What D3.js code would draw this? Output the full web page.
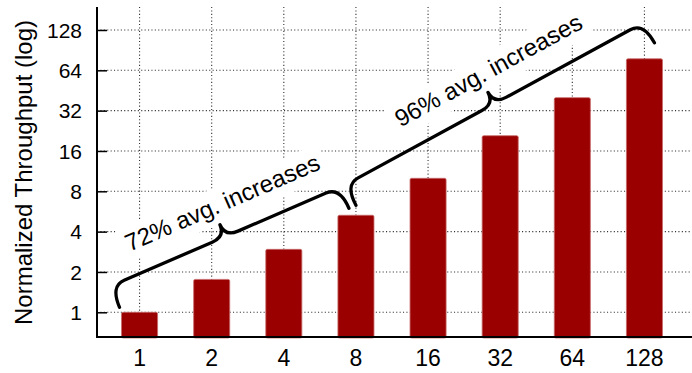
<!DOCTYPE html>
<html>
<head>
<meta charset="utf-8">
<script src="https://cdn.jsdelivr.net/npm/d3@7"></script>
<style>
  html, body { margin: 0; padding: 0; background: #fff; }
  svg { display: block; font-family: "Liberation Sans", Arial, Helvetica, sans-serif; }
</style>
</head>
<body>
<svg id="chart" width="692" height="373"></svg>
<script>
// ---- data ----
const categories = ["1", "2", "4", "8", "16", "32", "64", "128"];
const throughput = [1.0, 1.76, 2.95, 5.3, 10.0, 20.8, 40.0, 78.0];
const yTicks = [1, 2, 4, 8, 16, 32, 64, 128];
const yLabel = "Normalized Throughput (log)";
const annotationLabels = ["72% avg. increases", "96% avg. increases"];
const annotationFrom = ["1", "8"];
const annotationTo = ["8", "128"];

// ---- layout ----
const mLeft = 97, mRight = 692, mTop = 7, mBottom = 337;

const svg = d3.select("#chart");

const x = d3.scaleBand().domain(categories).range([103.5, 680.5])
  .paddingInner(0.5).paddingOuter(0.25);
const y = d3.scaleLog().base(2).domain([0.654, 190]).range([mBottom, mTop]);
const cx = c => x(c) + x.bandwidth() / 2;

// grid
const grid = svg.append("g").attr("stroke", "#333").attr("stroke-width", 1.1)
  .attr("stroke-dasharray", "1.1,2.3");
grid.selectAll("line.h").data(yTicks).join("line").attr("class", "h")
  .attr("x1", mLeft).attr("x2", mRight).attr("y1", d => y(d)).attr("y2", d => y(d));
grid.selectAll("line.v").data(categories).join("line").attr("class", "v")
  .attr("x1", d => cx(d)).attr("x2", d => cx(d)).attr("y1", mTop).attr("y2", mBottom);

// annotations (text with white box)
const valOf = c => throughput[categories.indexOf(c)];
const braceEnds = [
  { s: c => [x(c) - 2, y(valOf(c)) - 5], e: c => [cx(c) - 7, y(valOf(c)) - 7] },
  { s: c => [cx(c), y(valOf(c)) - 10], e: c => [cx(c) + 10, y(valOf(c)) - 16] }
];
const ann = annotationLabels.map((lab, i) => {
  const p0 = braceEnds[i].s(annotationFrom[i]);
  const p1 = braceEnds[i].e(annotationTo[i]);
  const dx = p1[0] - p0[0], dy = p1[1] - p0[1];
  const L = Math.hypot(dx, dy);
  const ang = Math.atan2(dy, dx) * 180 / Math.PI;
  return { lab, p0, p1, L, ang };
});

const annG = svg.append("g");
ann.forEach(a => {
  const g = annG.append("g")
    .attr("transform", `translate(${a.p0[0]},${a.p0[1]}) rotate(${a.ang})`);
  const t = g.append("text")
    .attr("x", a.L / 2 + 11).attr("y", -47)
    .attr("text-anchor", "middle")
    .attr("font-size", 24).attr("fill", "#000")
    .text(a.lab);
  const bb = t.node().getBBox();
  g.insert("rect", "text")
    .attr("x", bb.x - 5).attr("y", bb.y - 3)
    .attr("width", bb.width + 10).attr("height", bb.height + 8)
    .attr("fill", "#fff");
});

// bars
svg.append("g").selectAll("rect").data(categories).join("rect")
  .attr("x", d => x(d))
  .attr("width", x.bandwidth())
  .attr("y", (d, i) => y(throughput[i]))
  .attr("height", (d, i) => mBottom + 1 - y(throughput[i]))
  .attr("rx", 1.5)
  .attr("fill", "#9a0000")
  .attr("stroke", "#c86868")
  .attr("stroke-width", 0.8);

// braces
const h = 23, tip = 36, r = 15, r2 = 14;
const braceG = svg.append("g");
ann.forEach(a => {
  const L = a.L, m = L / 2;
  const p = d3.path();
  p.moveTo(0, 0);
  p.quadraticCurveTo(0, -h, r, -h);
  p.lineTo(m - r2, -h);
  p.quadraticCurveTo(m, -h, m, -tip);
  p.quadraticCurveTo(m, -h, m + r2, -h);
  p.lineTo(L - r, -h);
  p.quadraticCurveTo(L, -h, L, 0);
  braceG.append("path")
    .attr("transform", `translate(${a.p0[0]},${a.p0[1]}) rotate(${a.ang})`)
    .attr("d", p.toString())
    .attr("fill", "none").attr("stroke", "#000")
    .attr("stroke-width", 3.3).attr("stroke-linecap", "round")
    .attr("stroke-linejoin", "round");
});

// axes
const yAxis = d3.axisRight(y).tickValues(yTicks).tickSize(10).tickFormat("");
const yg = svg.append("g").attr("transform", `translate(${mLeft},0)`).call(yAxis);
yg.select(".domain").remove();
yg.selectAll(".tick line").attr("stroke", "#000").attr("stroke-width", 1.5);

svg.append("g").selectAll("text").data(yTicks).join("text")
  .attr("x", 82).attr("y", d => y(d)).attr("dy", "0.36em")
  .attr("text-anchor", "end").attr("font-size", 21).attr("fill", "#000")
  .text(d => d);

const xAxis = d3.axisBottom(x).tickSize(0).tickPadding(0);
const xg = svg.append("g").attr("transform", `translate(0,${mBottom})`).call(xAxis);
xg.select(".domain").remove();
xg.selectAll(".tick text").attr("font-size", 23).attr("fill", "#000")
  .attr("font-family", "Liberation Sans, Arial, sans-serif")
  .attr("dy", null).attr("y", 29);

svg.append("line").attr("x1", mLeft).attr("x2", mLeft).attr("y1", mTop).attr("y2", mBottom + 1)
  .attr("stroke", "#000").attr("stroke-width", 2);
svg.append("line").attr("x1", mLeft - 1).attr("x2", mRight).attr("y1", mBottom).attr("y2", mBottom)
  .attr("stroke", "#000").attr("stroke-width", 2);

svg.append("text")
  .attr("transform", `translate(32,172.5) rotate(-90)`)
  .attr("text-anchor", "middle").attr("font-size", 24).attr("fill", "#000")
  .text(yLabel);
</script>
</body>
</html>
